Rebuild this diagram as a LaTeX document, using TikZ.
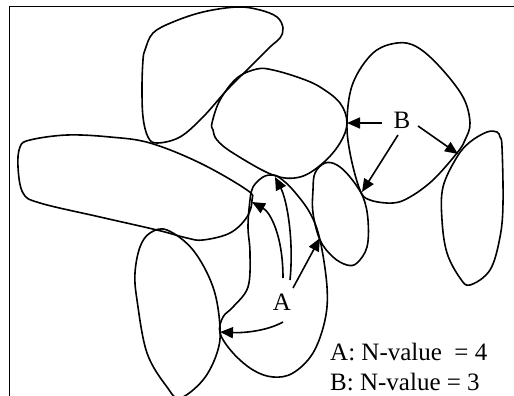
\documentclass[tikz,border=0pt]{standalone}
\usepackage{fontspec}
\setmainfont{Liberation Serif}
\usetikzlibrary{arrows.meta}
\begin{document}
\begin{tikzpicture}[x=1pt,y=-1pt,
  blob/.style={line width=1.6pt},
  ptr/.style={line width=1.6pt,-{Triangle[length=13pt,width=11pt]}},
  lbl/.style={font=\fontsize{25}{28}\selectfont,inner sep=0pt}]
\useasboundingbox (0,0) rectangle (514,396);
% frame
\draw[line width=0.8pt] (9,396) -- (9,6) -- (514,6);
% grains
\draw[blob] plot[smooth cycle,tension=0.6] coordinates {(145,50) (153,33) (173,22) (203,12) (237,7) (260,10) (277,17) (283,28) (280,38) (270,47) (250,67) (227,90) (203,117) (180,137) (157,143) (148,137) (143,117) (142,87) (143,60)};
\draw[blob] plot[smooth cycle,tension=0.6] coordinates {(213,130) (212,123) (220,100) (237,78) (257,69) (273,70) (300,78) (320,87) (340,103) (347,123) (340,143) (323,163) (300,177) (273,175) (233,153) (217,140)};
\draw[blob] plot[smooth cycle,tension=0.6] coordinates {(20,147) (30,140) (67,135) (110,137) (150,143) (200,163) (247,190) (252,200) (247,217) (230,233) (203,240) (187,238) (157,230) (100,217) (40,203) (23,193) (18,167)};
\draw[blob] plot[smooth cycle,tension=0.6] coordinates {(137,300) (147,353) (167,387) (180,398) (203,380) (217,353) (220,327) (213,287) (193,250) (167,230) (150,233) (140,247) (135,273)};
\draw[blob] plot[smooth cycle,tension=0.6] coordinates {(273,175) (263,177) (253,187) (250,200) (248,227) (250,253) (248,287) (233,307) (223,317) (220,333) (233,353) (253,370) (273,377) (293,373) (313,353) (325,320) (327,287) (320,240) (310,213) (293,190) (280,178)};
\draw[blob] plot[smooth cycle,tension=0.6] coordinates {(315,173) (325,163) (337,165) (350,177) (363,197) (368,220) (367,247) (357,263) (347,265) (333,257) (320,240) (313,213) (313,190)};
\draw[blob] plot[smooth cycle,tension=0.6] coordinates {(347,120) (353,83) (373,53) (397,43) (417,47) (440,67) (463,97) (470,123) (465,140) (457,153) (433,180) (410,197) (393,203) (370,200) (360,190) (350,153)};
\draw[blob] plot[smooth cycle,tension=0.6] coordinates {(500,137) (502,147) (503,203) (500,237) (490,270) (470,285) (460,278) (447,253) (442,220) (443,187) (457,157) (470,142) (487,132) (497,132)};
% labels
\node[lbl] (A) at (282,302) {A};
\node[lbl] (B) at (402,120) {B};
\node[lbl,anchor=west] (ka) at (330,352) {A: N-value\ \ = 4};
\node[lbl,anchor=west] (kb) at (330,382) {B: N-value = 3};
% contact points
\coordinate (a1s) at (293,288); \coordinate (a1) at (320,238);
\coordinate (a2s) at (290,280); \coordinate (a2) at (275,177);
\coordinate (a3s) at (283,278); \coordinate (a3) at (252,202);
\coordinate (a4s) at (283,322); \coordinate (a4) at (220,332);
\coordinate (b1s) at (382,123); \coordinate (b1) at (347,123);
\coordinate (b2s) at (398,135); \coordinate (b2) at (362,192);
\coordinate (b3s) at (418,126); \coordinate (b3) at (458,154);
% pointers
\draw[ptr] (a1s) -- (a1);
\draw[ptr] (a2s) .. controls (294,240) and (287,200) .. (a2);
\draw[ptr] (a3s) .. controls (283,235) and (270,212) .. (a3);
\draw[ptr] (a4s) .. controls (265,332) and (240,333) .. (a4);
\draw[ptr] (b1s) -- (b1);
\draw[ptr] (b2s) -- (b2);
\draw[ptr] (b3s) -- (b3);
\end{tikzpicture}
\end{document}
